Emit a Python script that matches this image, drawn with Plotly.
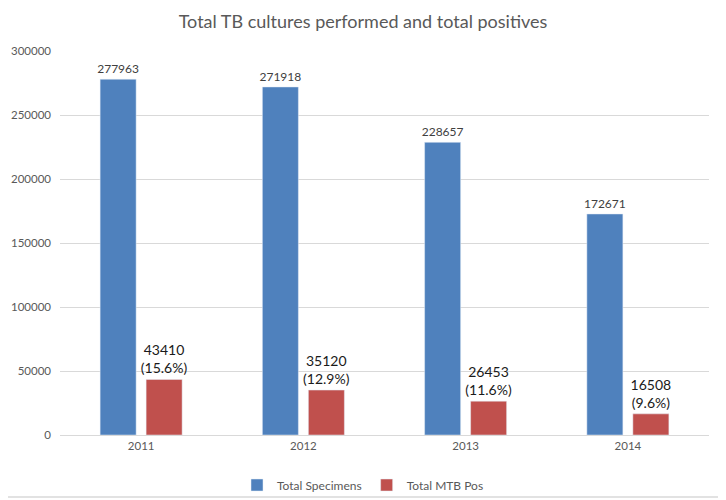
import plotly.graph_objects as go

years = ["2011", "2012", "2013", "2014"]
total_specimens = [277963, 271918, 228657, 172671]
total_mtb_pos = [43410, 35120, 26453, 16508]
pos_pct = ["15.6%", "12.9%", "11.6%", "9.6%"]

FONT = "Lato, Open Sans, sans-serif"

# page body has an 8px default margin; size the figure to fill the rest
W, H = 718, 492
L, R, T, B = 52, 17, 43, 65
PW, PH = W - L - R, H - T - B
BX, BY = 715, 489  # border positions in figure pixels

fig = go.Figure()
fig.add_trace(go.Bar(
    x=years, y=total_specimens, name="Total Specimens",
    marker_color="#4f81bd",
    text=[str(v) for v in total_specimens], textposition="outside",
    textfont=dict(size=12, color="#404040", family=FONT),
    constraintext="none", cliponaxis=False,
))
fig.add_trace(go.Bar(
    x=years, y=total_mtb_pos, name="Total MTB Pos",
    marker_color="#c0504d",
    text=[f"{v}<br>({p})" for v, p in zip(total_mtb_pos, pos_pct)],
    textposition="outside",
    textfont=dict(size=14, color="#1a1a1a", family=FONT),
    constraintext="none", cliponaxis=False,
))

fig.update_layout(
    width=W, height=H,
    paper_bgcolor="white", plot_bgcolor="white",
    margin=dict(l=L, r=R, t=T, b=B, autoexpand=False),
    barmode="group", bargap=0.433, bargroupgap=0.217,
    title=dict(text="Total TB cultures performed and total positives",
               xref="container", x=355 / W, xanchor="center",
               yref="container", y=1 - 14 / H, yanchor="middle",
               font=dict(size=18, color="#595959", family=FONT)),
    font=dict(family=FONT, color="#595959", size=12),
    yaxis=dict(range=[0, 300000], dtick=50000, showgrid=True,
               gridcolor="#d9d9d9", gridwidth=1, zeroline=False,
               tickfont=dict(size=11.5, color="#595959"), automargin=False,
               ticks="", showline=False, tickformat="d", ticklabelstandoff=8),
    xaxis=dict(showline=True, linecolor="#d9d9d9", linewidth=1, automargin=False,
               tickfont=dict(size=11.5, color="#595959"), ticks=""),
    legend=dict(orientation="h", xref="container", x=355 / W, xanchor="center",
                yref="container", y=1 - 477 / H, yanchor="middle",
                bgcolor="rgba(0,0,0,0)",
                font=dict(size=12, color="#595959"), itemwidth=30),
    shapes=[
        dict(type="line", xref="paper", yref="paper", layer="below",
             x0=(BX - L) / PW, x1=(BX - L) / PW, y0=-(BY - T - PH) / PH, y1=1 + T / PH,
             line=dict(color="#d9d9d9", width=1.5)),
        dict(type="line", xref="paper", yref="paper", layer="below",
             x0=-L / PW, x1=(BX - L) / PW, y0=-(BY - T - PH) / PH, y1=-(BY - T - PH) / PH,
             line=dict(color="#d9d9d9", width=1.5)),
    ],
)

fig.write_html("out.html")
